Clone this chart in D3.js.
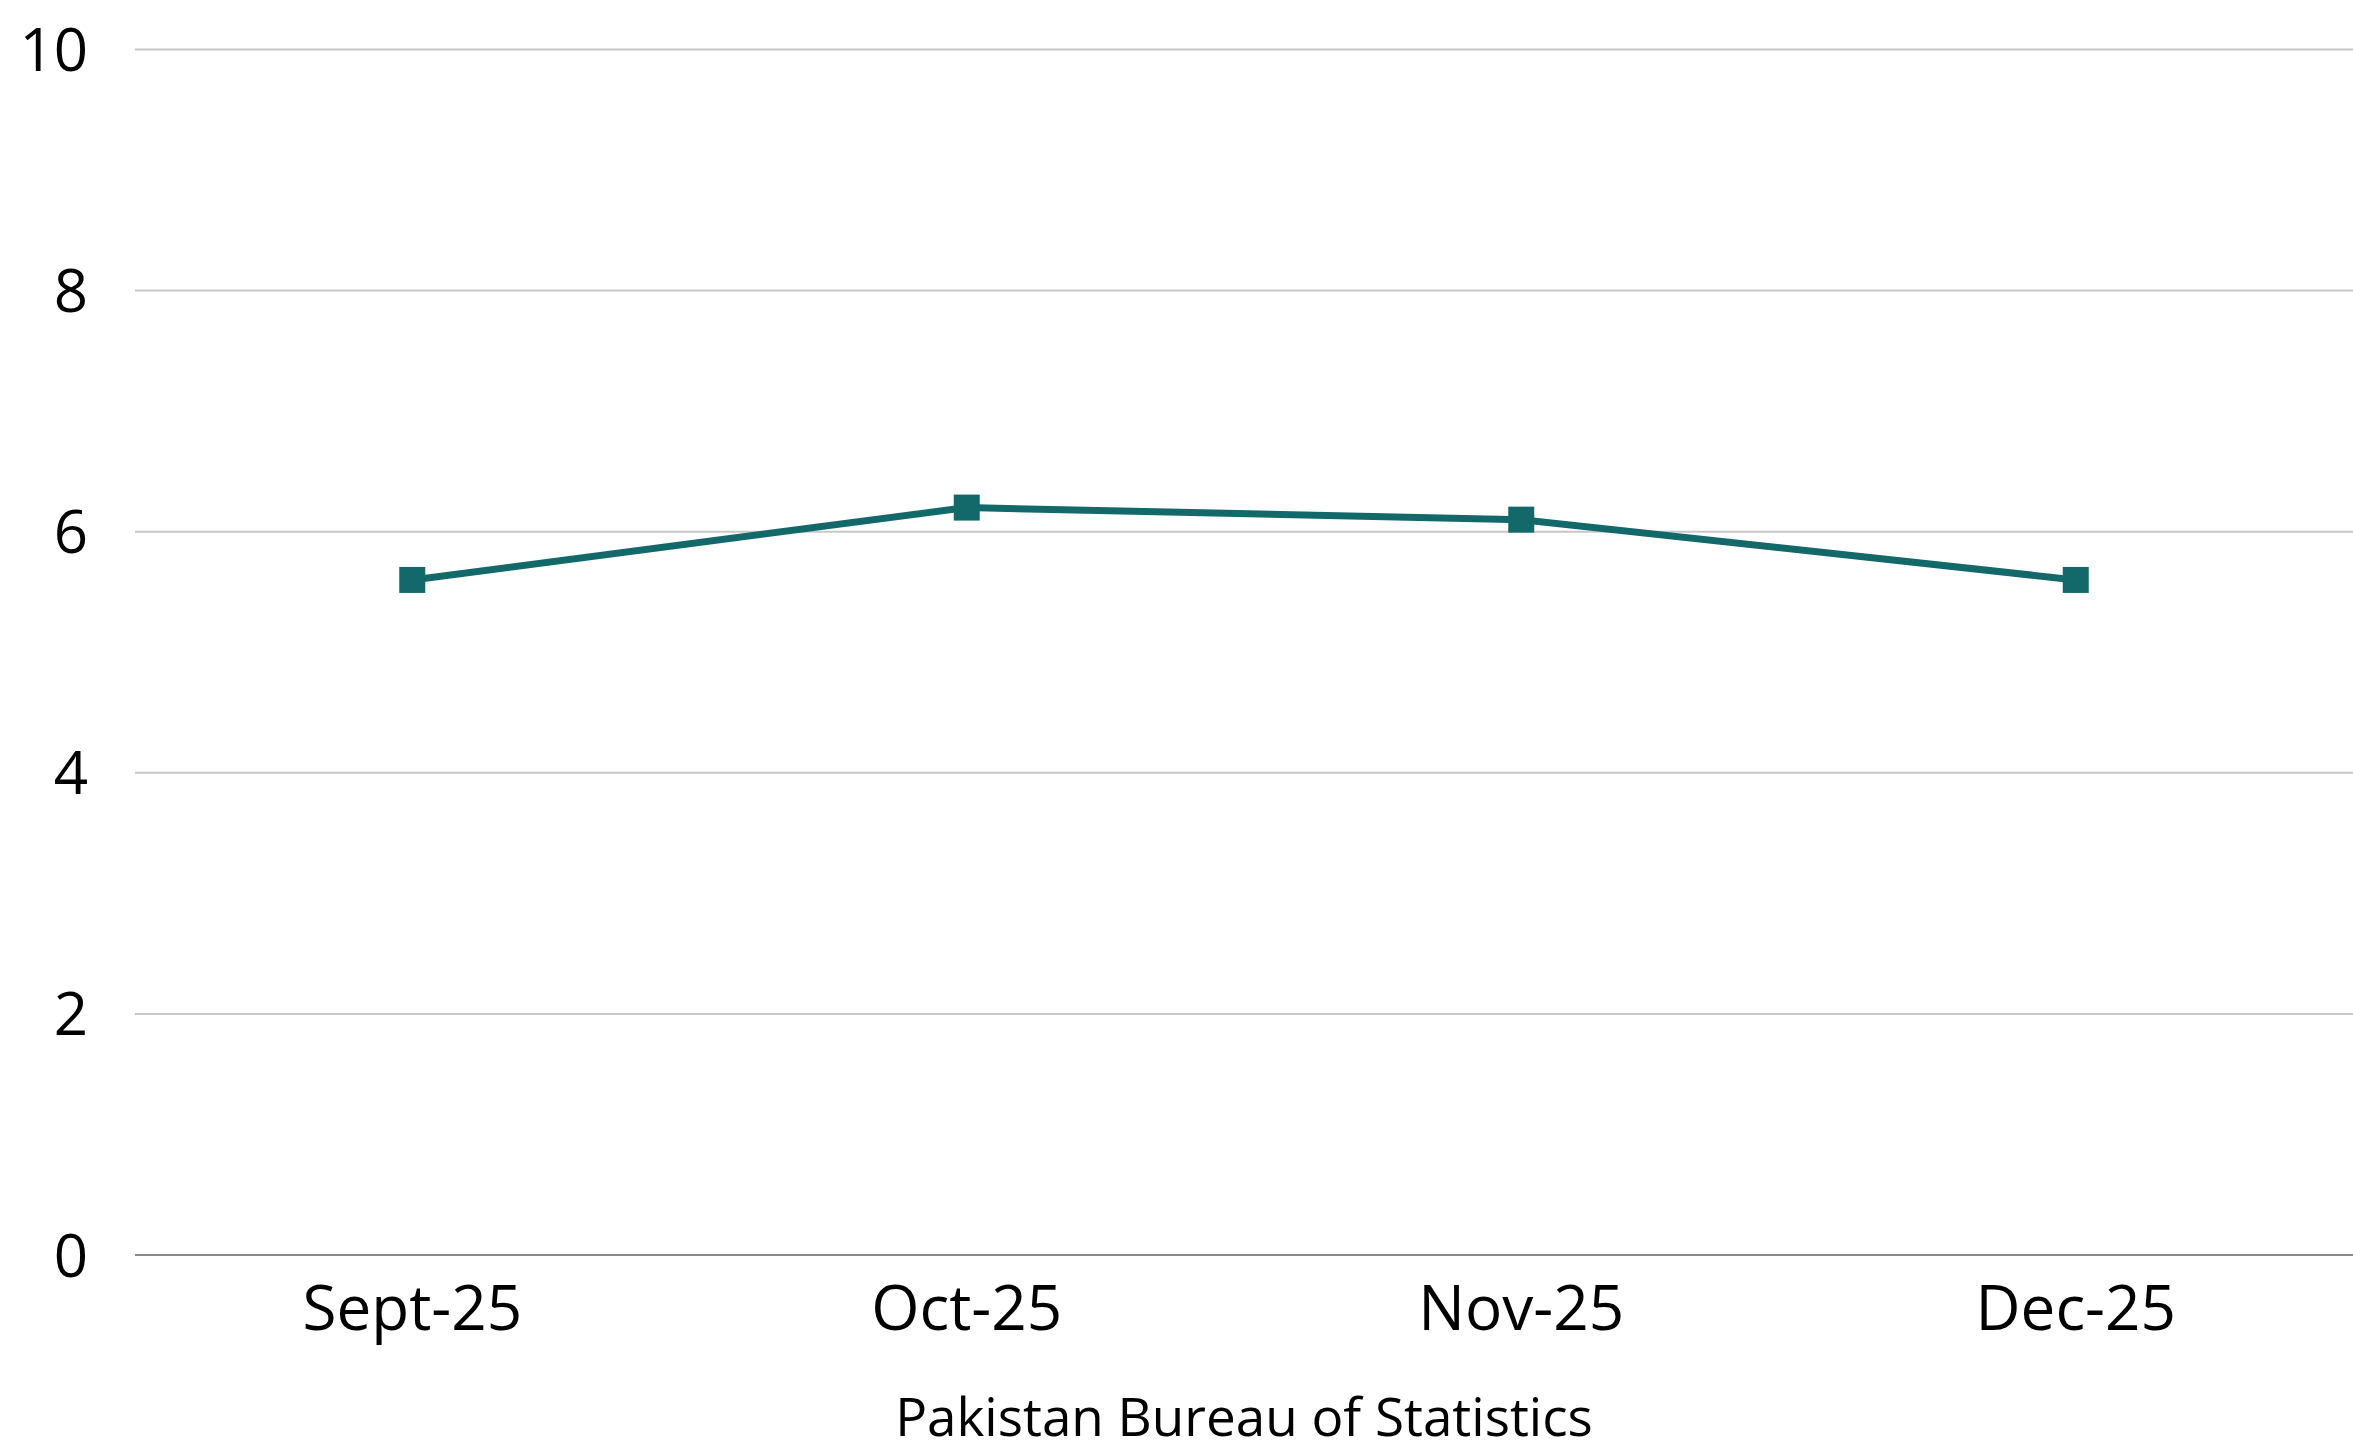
<!DOCTYPE html>
<html>
<head>
<meta charset="utf-8">
<script src="https://cdn.jsdelivr.net/npm/d3@7"></script>
<style>
  html, body { margin: 0; padding: 0; background: #ffffff; }
  svg { display: block; }
  text { font-family: "Open Sans", "Noto Sans", sans-serif; fill: #000; }
</style>
</head>
<body>
<svg id="chart" width="2353" height="1455"></svg>
<script>
// Monthly inflation readings
const months = ["Sept-25", "Oct-25", "Nov-25", "Dec-25"];
const inflation = [5.6, 6.2, 6.1, 5.6];
const yTicks = [0, 2, 4, 6, 8, 10];
const sourceNote = "Pakistan Bureau of Statistics";

const W = 2353, H = 1455;
const margin = { top: 49.5, right: 0, bottom: 200, left: 135 };
const svg = d3.select("#chart");

const x = d3.scaleBand()
  .domain(months)
  .range([margin.left, W - margin.right])
  .padding(0);

const y = d3.scaleLinear()
  .domain([0, 10])
  .range([1255, margin.top]);

// Horizontal gridlines
svg.append("g")
  .selectAll("line")
  .data(yTicks.filter(d => d !== 0))
  .join("line")
  .attr("x1", margin.left)
  .attr("x2", W - margin.right)
  .attr("y1", d => y(d))
  .attr("y2", d => y(d))
  .attr("stroke", "#c8c8c8")
  .attr("stroke-width", 2);

// Baseline
svg.append("line")
  .attr("x1", margin.left)
  .attr("x2", W - margin.right)
  .attr("y1", y(0))
  .attr("y2", y(0))
  .attr("stroke", "#8a8a8a")
  .attr("stroke-width", 2);

// Y axis labels
const yAxis = d3.axisLeft(y).tickValues(yTicks).tickSize(0).tickPadding(0);
svg.append("g")
  .attr("transform", `translate(88,0)`)
  .call(yAxis)
  .call(g => g.select(".domain").remove())
  .call(g => g.selectAll("text")
    .attr("font-size", 60)
    .attr("font-family", "\"Open Sans\", sans-serif")
    .attr("fill", "#000")
    .attr("dy", "0.35em"));

// X axis labels
const xAxis = d3.axisBottom(x).tickSize(0).tickPadding(0);
svg.append("g")
  .attr("transform", `translate(0,${y(0)})`)
  .call(xAxis)
  .call(g => g.select(".domain").remove())
  .call(g => g.selectAll("text")
    .attr("font-size", 62)
    .attr("font-family", "\"Open Sans\", sans-serif")
    .attr("fill", "#000")
    .attr("y", 75)
    .attr("dy", 0));

// Series line
const line = d3.line()
  .x((d, i) => x(months[i]) + x.bandwidth() / 2)
  .y(d => y(d));

svg.append("path")
  .datum(inflation)
  .attr("d", line)
  .attr("fill", "none")
  .attr("stroke", "#13696a")
  .attr("stroke-width", 7)
  .attr("stroke-linejoin", "round");

// Square markers
const m = 26;
svg.append("g")
  .selectAll("rect")
  .data(inflation)
  .join("rect")
  .attr("x", (d, i) => x(months[i]) + x.bandwidth() / 2 - m / 2)
  .attr("y", d => y(d) - m / 2)
  .attr("width", m)
  .attr("height", m)
  .attr("fill", "#13696a");

// Source note
svg.append("text")
  .attr("x", (margin.left + W - margin.right) / 2)
  .attr("y", 1436)
  .attr("text-anchor", "middle")
  .attr("font-size", 53)
  .text(sourceNote);
</script>
</body>
</html>
